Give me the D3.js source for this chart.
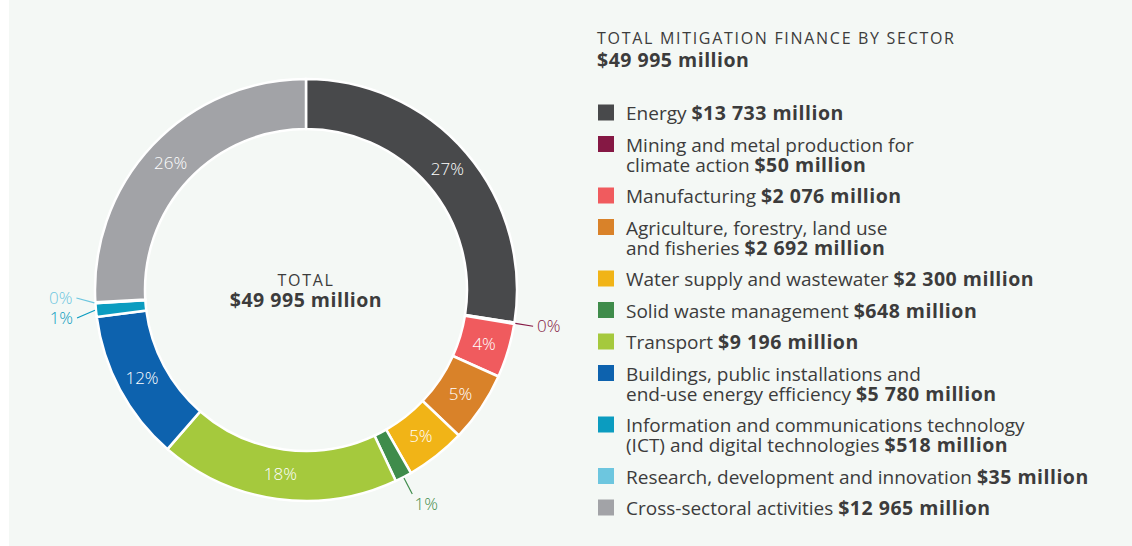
<!DOCTYPE html>
<html>
<head>
<meta charset="utf-8">
<script src="https://cdn.jsdelivr.net/npm/d3@7"></script>
<style>
  html, body { margin: 0; padding: 0; background: #fff; }
  svg { display: block; font-family: "Open Sans", Roboto, "Liberation Sans", Arial, sans-serif; }
</style>
</head>
<body>
<svg id="chart" width="1132" height="546"></svg>
<script>
// sectors, in drawing order (clockwise from 12 o'clock)
const sectors = [
  "Energy",
  "Mining and metal production for|climate action",
  "Manufacturing",
  "Agriculture, forestry, land use|and fisheries",
  "Water supply and wastewater",
  "Solid waste management",
  "Transport",
  "Buildings, public installations and|end-use energy efficiency",
  "Information and communications technology|(ICT) and digital technologies",
  "Research, development and innovation",
  "Cross-sectoral activities"
];
const amounts = [13733, 50, 2076, 2692, 2300, 648, 9196, 5780, 518, 35, 12965];
const colours = ["#48494b", "#851844", "#f05b5e", "#d98229", "#f1b417", "#3f8c4b",
                 "#a5c93d", "#0d62ae", "#0b9cc0", "#6dc6df", "#a2a3a7"];
const totalAmount = 49995;
const headerTitle = "TOTAL MITIGATION FINANCE BY SECTOR";
const centreTitle = "TOTAL";

const fmt = d3.formatLocale({ decimal: ".", thousands: " ", grouping: [3], currency: ["$", ""] })
  .format(",");
const money = v => "$" + fmt(v) + " million";

const svg = d3.select("#chart");
const textCol = "#3c3c3c";

// background panel
svg.append("rect")
  .attr("x", 9).attr("y", 0)
  .attr("width", 1123).attr("height", 546)
  .attr("fill", "#f4f8f5");

// donut
const cx = 306, cy = 290, R = 211, r = 161;
const data = sectors.map((s, i) => ({ name: s, value: amounts[i], colour: colours[i] }));
const pie = d3.pie().value(d => d.value).sort(null);
const arc = d3.arc().innerRadius(r).outerRadius(R);
const arcs = pie(data);
const sum = d3.sum(amounts);

const g = svg.append("g").attr("transform", `translate(${cx},${cy})`);

g.selectAll("path")
  .data(arcs)
  .join("path")
  .attr("d", arc)
  .attr("fill", d => d.data.colour)
  .attr("stroke", "#fff")
  .attr("stroke-width", 2.5);

const pct = d => Math.round(d.value / sum * 100) + "%";
const big = arcs.filter(d => d.value / sum >= 0.02);
const small = arcs.filter(d => d.value / sum < 0.02);

// labels inside the ring
const mid = d3.arc().innerRadius((R + r) / 2).outerRadius((R + r) / 2);
g.selectAll("text.in")
  .data(big)
  .join("text")
  .attr("class", "in")
  .attr("transform", d => `translate(${mid.centroid(d)})`)
  .attr("text-anchor", "middle")
  .attr("dy", "0.36em")
  .attr("fill", "#fff")
  .attr("font-size", 17)
  .attr("font-weight", 300)
  .text(pct);

// labels outside, with leader lines
const outer = small.map(d => {
  const a = (d.startAngle + d.endAngle) / 2;
  const s = Math.sin(a), c = -Math.cos(a);
  const horiz = Math.abs(s) > 0.7;
  return {
    d, horiz,
    side: s >= 0 ? 1 : -1,
    x0: (R + 1) * s, y0: (R + 1) * c,
    x1: (R + 19) * s, y1: (R + 19) * c
  };
});
// push apart labels sitting on the same side
[-1, 1].forEach(side => {
  const grp = outer.filter(o => o.horiz && o.side === side).sort((p, q) => p.y1 - q.y1);
  for (let i = 1; i < grp.length; i++) {
    if (grp[i].y1 - grp[i - 1].y1 < 20) {
      const m = (grp[i].y1 + grp[i - 1].y1) / 2;
      grp[i - 1].y1 = m - 10;
      grp[i].y1 = m + 10;
    }
  }
});

outer.forEach(o => {
  g.append("line")
    .attr("x1", o.x0).attr("y1", o.y0)
    .attr("x2", o.x1).attr("y2", o.y1)
    .attr("stroke", o.d.data.colour)
    .attr("stroke-width", 1.2);
  const t = g.append("text")
    .attr("fill", o.d.data.colour)
    .attr("font-size", 17)
    .attr("font-weight", 300)
    .text(pct(o.d));
  if (o.horiz) {
    t.attr("x", o.x1 + o.side * 4).attr("y", o.y1)
      .attr("dy", "0.36em")
      .attr("text-anchor", o.side > 0 ? "start" : "end");
  } else {
    t.attr("x", o.x1 + 14).attr("y", o.y1 + 10)
      .attr("dy", "0.36em")
      .attr("text-anchor", "middle");
  }
});

// centre text
g.append("text")
  .attr("y", -4)
  .attr("text-anchor", "middle")
  .attr("fill", textCol)
  .attr("font-size", 16)
  .attr("letter-spacing", 1.7)
  .text(centreTitle);
g.append("text")
  .attr("y", 17)
  .attr("text-anchor", "middle")
  .attr("fill", textCol)
  .attr("font-size", 19.5)
  .attr("font-weight", 700)
  .attr("letter-spacing", 0.5)
  .text(money(totalAmount));

// legend
const lx = 597;
svg.append("text")
  .attr("x", lx).attr("y", 44)
  .attr("fill", textCol)
  .attr("font-size", 16)
  .attr("letter-spacing", 1.7)
  .text(headerTitle);
svg.append("text")
  .attr("x", lx).attr("y", 67)
  .attr("fill", textCol)
  .attr("font-size", 19.5)
  .attr("font-weight", 700)
  .attr("letter-spacing", 0.5)
  .text(money(totalAmount));

let y = 120;
data.forEach(d => {
  const lines = d.name.split("|");
  svg.append("rect")
    .attr("x", 598).attr("y", y - 15.5)
    .attr("width", 16).attr("height", 16)
    .attr("fill", d.colour);
  const t = svg.append("text")
    .attr("fill", textCol)
    .attr("font-size", 19);
  lines.forEach((ln, i) => {
    const last = i === lines.length - 1;
    t.append("tspan").attr("x", 626).attr("y", y + i * 20).text(ln + (last ? " " : ""));
    if (last) {
      t.append("tspan")
        .attr("font-weight", 700)
        .attr("font-size", 19.5)
        .attr("letter-spacing", 0.5)
        .text(money(d.value));
    }
  });
  y += 20 * (lines.length - 1) + 31.5;
});
</script>
</body>
</html>
